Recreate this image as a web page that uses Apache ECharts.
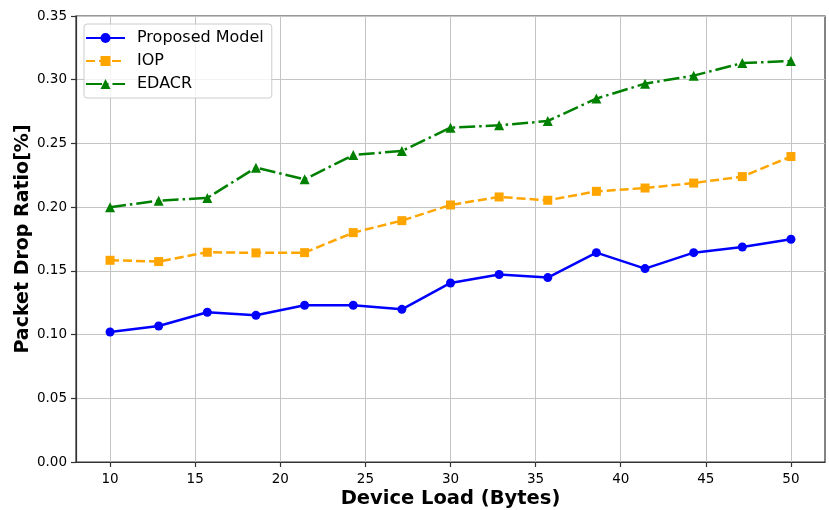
<!DOCTYPE html>
<html>
<head>
<meta charset="utf-8">
<script src="https://cdn.jsdelivr.net/npm/echarts@6/dist/echarts.min.js"></script>
<style>
  html, body { margin: 0; padding: 0; background: #fff; }
  #chart { width: 829px; height: 510px; }
</style>
</head>
<body>
<div id="chart"></div>
<script>
// Device load sample points (bytes)
const deviceLoad = [10, 12.857, 15.714, 18.571, 21.429, 24.286, 27.143, 30,
                    32.857, 35.714, 38.571, 41.429, 44.286, 47.143, 50];

// Packet drop ratio per scheme
const proposedModel = [0.1020, 0.1067, 0.1175, 0.1151, 0.1230, 0.1230, 0.1198, 0.1405,
                       0.1471, 0.1447, 0.1643, 0.1518, 0.1643, 0.1687, 0.1748];
const iop = [0.1583, 0.1573, 0.1646, 0.1641, 0.1643, 0.1800, 0.1894, 0.2017,
             0.2080, 0.2054, 0.2124, 0.2150, 0.2189, 0.2240, 0.2397];
const edacr = [0.1999, 0.2051, 0.2072, 0.2310, 0.2218, 0.2409, 0.2441, 0.2624,
               0.2642, 0.2676, 0.2852, 0.2969, 0.3032, 0.3131, 0.3147];

// Axis tick values
const xTicks = [10, 15, 20, 25, 30, 35, 40, 45, 50];

const pair = ys => deviceLoad.map((x, i) => [x, ys[i]]);

const FONT = 'DejaVu Sans';
const chart = echarts.init(document.getElementById('chart'), null, { renderer: 'canvas' });

chart.setOption({
  animation: false,
  backgroundColor: '#ffffff',
  textStyle: { fontFamily: FONT },
  grid: {
    left: 76, right: 4, top: 16, bottom: 48,
    containLabel: false, outerBoundsMode: 'none',
    show: true, borderColor: '#333333', borderWidth: 1.2, backgroundColor: 'transparent'
  },
  legend: {
    orient: 'vertical',
    left: 84, top: 24,
    padding: [6, 8, 6, 1],
    itemWidth: 39, itemHeight: 12.5,
    itemGap: 7,
    backgroundColor: 'rgba(255,255,255,0.8)',
    borderColor: '#cccccc', borderWidth: 1, borderRadius: 3,
    textStyle: { fontFamily: FONT, fontSize: 16, color: '#000', padding: [0, 0, 0, 7] },
    data: ['Proposed Model', 'IOP', 'EDACR']
  },
  xAxis: {
    type: 'value', min: 8, max: 52,
    name: 'Device Load (Bytes)', nameLocation: 'middle', nameGap: 27, nameMoveOverlap: false,
    nameTextStyle: { fontFamily: FONT, fontSize: 19.5, fontWeight: 'bold', color: '#000' },
    axisLine: { show: true, onZero: false, lineStyle: { color: '#333333', width: 1.2 } },
    axisTick: { show: true, length: 5, customValues: xTicks, lineStyle: { color: '#333333', width: 1.2 } },
    axisLabel: { customValues: xTicks, fontFamily: FONT, fontSize: 13.5, color: '#000', margin: 10 },
    splitLine: { show: true, lineStyle: { color: '#c4c4c4', width: 1 } }
  },
  yAxis: {
    type: 'value', min: 0, max: 0.35, interval: 0.05,
    name: 'Packet Drop Ratio[%]', nameLocation: 'middle', nameGap: 43, nameRotate: 90,
    nameMoveOverlap: false,
    nameTextStyle: { fontFamily: FONT, fontSize: 19, fontWeight: 'bold', color: '#000' },
    axisLine: { show: true, lineStyle: { color: '#333333', width: 1.2 } },
    axisTick: { show: true, length: 5, lineStyle: { color: '#333333', width: 1.2 } },
    axisLabel: { fontFamily: FONT, fontSize: 13.5, color: '#000', margin: 9,
                 formatter: v => v.toFixed(2) },
    splitLine: { show: true, lineStyle: { color: '#c4c4c4', width: 1 } }
  },
  series: [
    {
      name: 'Proposed Model', type: 'line', data: pair(proposedModel),
      symbol: 'circle', symbolSize: 9, z: 3,
      lineStyle: { color: '#0000ff', width: 2.5, type: 'solid' },
      itemStyle: { color: '#0000ff' }
    },
    {
      name: 'IOP', type: 'line', data: pair(iop),
      symbol: 'rect', symbolSize: 9, z: 2,
      lineStyle: { color: '#ffa500', width: 2.5, type: [9, 4] },
      itemStyle: { color: '#ffa500' }
    },
    {
      name: 'EDACR', type: 'line', data: pair(edacr),
      symbol: 'triangle', symbolSize: 10, z: 2,
      lineStyle: { color: '#008000', width: 2.5, type: [16, 4, 2.5, 4] },
      itemStyle: { color: '#008000' }
    }
  ]
});
</script>
</body>
</html>
